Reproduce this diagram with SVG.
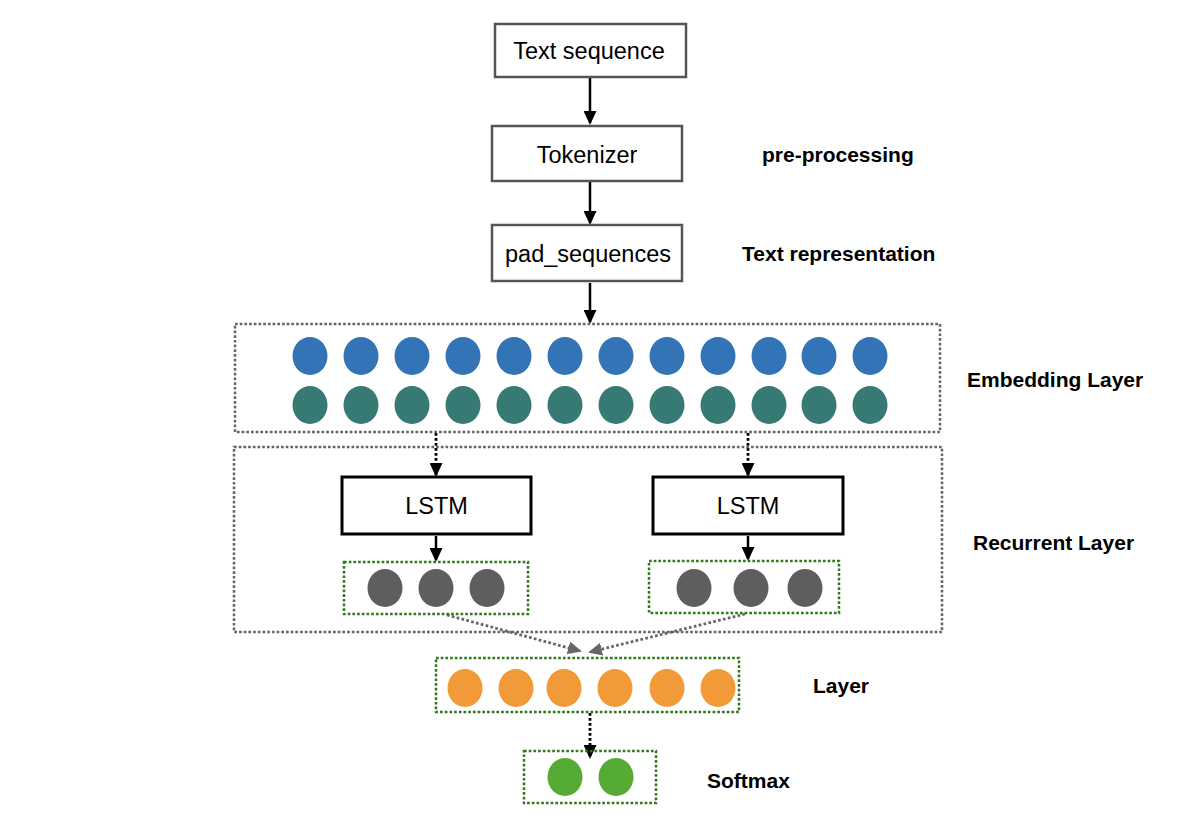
<svg xmlns="http://www.w3.org/2000/svg" width="1190" height="816" viewBox="0 0 1190 816">
<style>
.box{fill:#fff;stroke:#555;stroke-width:2.5}
.lstm{fill:#fff;stroke:#000;stroke-width:3}
.grp{fill:none;stroke:#666;stroke-width:2.5;stroke-dasharray:2.7 2}
.gbox{fill:none;stroke:#2f7a1c;stroke-width:2.5;stroke-dasharray:2.7 2}
.t{font-family:"Liberation Sans",Arial,sans-serif;font-size:23.5px;fill:#000;text-anchor:middle}
.lbl{font-family:"Liberation Sans",Arial,sans-serif;font-size:21px;font-weight:bold;fill:#000}
.blue{fill:#3274b5}
.teal{fill:#367a73}
.gray{fill:#5e5e5e}
.orange{fill:#f29a38}
.green{fill:#55ab34}
.solid{stroke:#000;stroke-width:2.5;fill:none;marker-end:url(#ah)}
.dot{stroke:#000;stroke-width:2.8;fill:none;stroke-dasharray:2.7 2.3;marker-end:url(#ah)}
.gdot{stroke:#666;stroke-width:2.8;fill:none;stroke-dasharray:2.7 2.3;marker-end:url(#ahg)}
</style>
<defs>
<marker id="ah" viewBox="0 0 14 13" markerWidth="14" markerHeight="13" markerUnits="userSpaceOnUse" refX="12" refY="6.5" orient="auto"><path d="M0,0 L14,6.5 L0,13 z" fill="#000"/></marker>
<marker id="ahg" viewBox="0 0 14 13" markerWidth="14" markerHeight="13" markerUnits="userSpaceOnUse" refX="12" refY="6.5" orient="auto"><path d="M0,0 L14,6.5 L0,13 z" fill="#666"/></marker>
</defs>
<rect width="1190" height="816" fill="#fff"/>

<g id="connectors">
<line class="solid" x1="590" y1="78" x2="590" y2="123"/>
<line class="solid" x1="590" y1="182" x2="590" y2="223"/>
<line class="solid" x1="590" y1="283" x2="590" y2="322"/>
<line class="dot" x1="436" y1="433" x2="436" y2="475"/>
<line class="dot" x1="748" y1="433" x2="748" y2="475"/>
<line class="solid" x1="436" y1="536" x2="436" y2="560"/>
<line class="solid" x1="748" y1="536" x2="748" y2="559"/>
<line class="gdot" x1="447" y1="615" x2="580" y2="651"/>
<line class="gdot" x1="745" y1="614" x2="590" y2="652"/>
<line class="dot" x1="590" y1="713" x2="590" y2="757"/>
</g>

<g id="text_sequence">
<rect class="box" x="495" y="24" width="191" height="53"/>
<text class="t" x="589" y="59">Text sequence</text>
</g>
<g id="tokenizer">
<rect class="box" x="492" y="126" width="190" height="55"/>
<text class="t" x="587" y="162.5">Tokenizer</text>
</g>
<g id="pad_sequences">
<rect class="box" x="492" y="225" width="190" height="56"/>
<text class="t" x="588" y="261.5">pad_sequences</text>
</g>

<g id="embedding_layer">
<rect class="grp" x="235" y="324" width="705" height="108"/>
<g class="blue">
<ellipse cx="310" cy="356" rx="17.5" ry="19"/><ellipse cx="361" cy="356" rx="17.5" ry="19"/><ellipse cx="412" cy="356" rx="17.5" ry="19"/><ellipse cx="463" cy="356" rx="17.5" ry="19"/><ellipse cx="514" cy="356" rx="17.5" ry="19"/><ellipse cx="565" cy="356" rx="17.5" ry="19"/><ellipse cx="616" cy="356" rx="17.5" ry="19"/><ellipse cx="667" cy="356" rx="17.5" ry="19"/><ellipse cx="718" cy="356" rx="17.5" ry="19"/><ellipse cx="769" cy="356" rx="17.5" ry="19"/><ellipse cx="819" cy="356" rx="17.5" ry="19"/><ellipse cx="870" cy="356" rx="17.5" ry="19"/>
</g>
<g class="teal">
<ellipse cx="310" cy="405" rx="17.5" ry="19"/><ellipse cx="361" cy="405" rx="17.5" ry="19"/><ellipse cx="412" cy="405" rx="17.5" ry="19"/><ellipse cx="463" cy="405" rx="17.5" ry="19"/><ellipse cx="514" cy="405" rx="17.5" ry="19"/><ellipse cx="565" cy="405" rx="17.5" ry="19"/><ellipse cx="616" cy="405" rx="17.5" ry="19"/><ellipse cx="667" cy="405" rx="17.5" ry="19"/><ellipse cx="718" cy="405" rx="17.5" ry="19"/><ellipse cx="769" cy="405" rx="17.5" ry="19"/><ellipse cx="819" cy="405" rx="17.5" ry="19"/><ellipse cx="870" cy="405" rx="17.5" ry="19"/>
</g>
</g>

<g id="recurrent_layer">
<rect class="grp" x="234" y="447" width="708" height="185"/>
</g>
<g id="lstm_1">
<rect class="lstm" x="342" y="477" width="189" height="57"/>
<text class="t" x="436.5" y="514">LSTM</text>
</g>
<g id="lstm_2">
<rect class="lstm" x="653" y="477" width="190" height="57"/>
<text class="t" x="748" y="514">LSTM</text>
</g>
<g id="lstm_1_output">
<rect class="gbox" x="344" y="562" width="184" height="52"/>
<g class="gray"><ellipse cx="385" cy="588" rx="17.5" ry="19"/><ellipse cx="436" cy="588" rx="17.5" ry="19"/><ellipse cx="487" cy="588" rx="17.5" ry="19"/></g>
</g>
<g id="lstm_2_output">
<rect class="gbox" x="649" y="561" width="190" height="52"/>
<g class="gray"><ellipse cx="694" cy="588" rx="17.5" ry="19"/><ellipse cx="751" cy="588" rx="17.5" ry="19"/><ellipse cx="805" cy="588" rx="17.5" ry="19"/></g>
</g>

<g id="dense_layer">
<rect class="gbox" x="436" y="658" width="303" height="54"/>
<g class="orange"><ellipse cx="465" cy="688" rx="17.5" ry="19"/><ellipse cx="516" cy="688" rx="17.5" ry="19"/><ellipse cx="564" cy="688" rx="17.5" ry="19"/><ellipse cx="615" cy="688" rx="17.5" ry="19"/><ellipse cx="667" cy="688" rx="17.5" ry="19"/><ellipse cx="718" cy="688" rx="17.5" ry="19"/></g>
</g>

<g id="softmax">
<rect class="gbox" x="524" y="751" width="132" height="52"/>
<g class="green"><ellipse cx="565" cy="777" rx="17.5" ry="19"/><ellipse cx="616" cy="777" rx="17.5" ry="19"/></g>
</g>

<g id="labels">
<text class="lbl" x="762" y="162">pre-processing</text>
<text class="lbl" x="742" y="261">Text representation</text>
<text class="lbl" x="967" y="387">Embedding Layer</text>
<text class="lbl" x="973" y="550">Recurrent Layer</text>
<text class="lbl" x="813" y="693">Layer</text>
<text class="lbl" x="707" y="788">Softmax</text>
</g>
</svg>
